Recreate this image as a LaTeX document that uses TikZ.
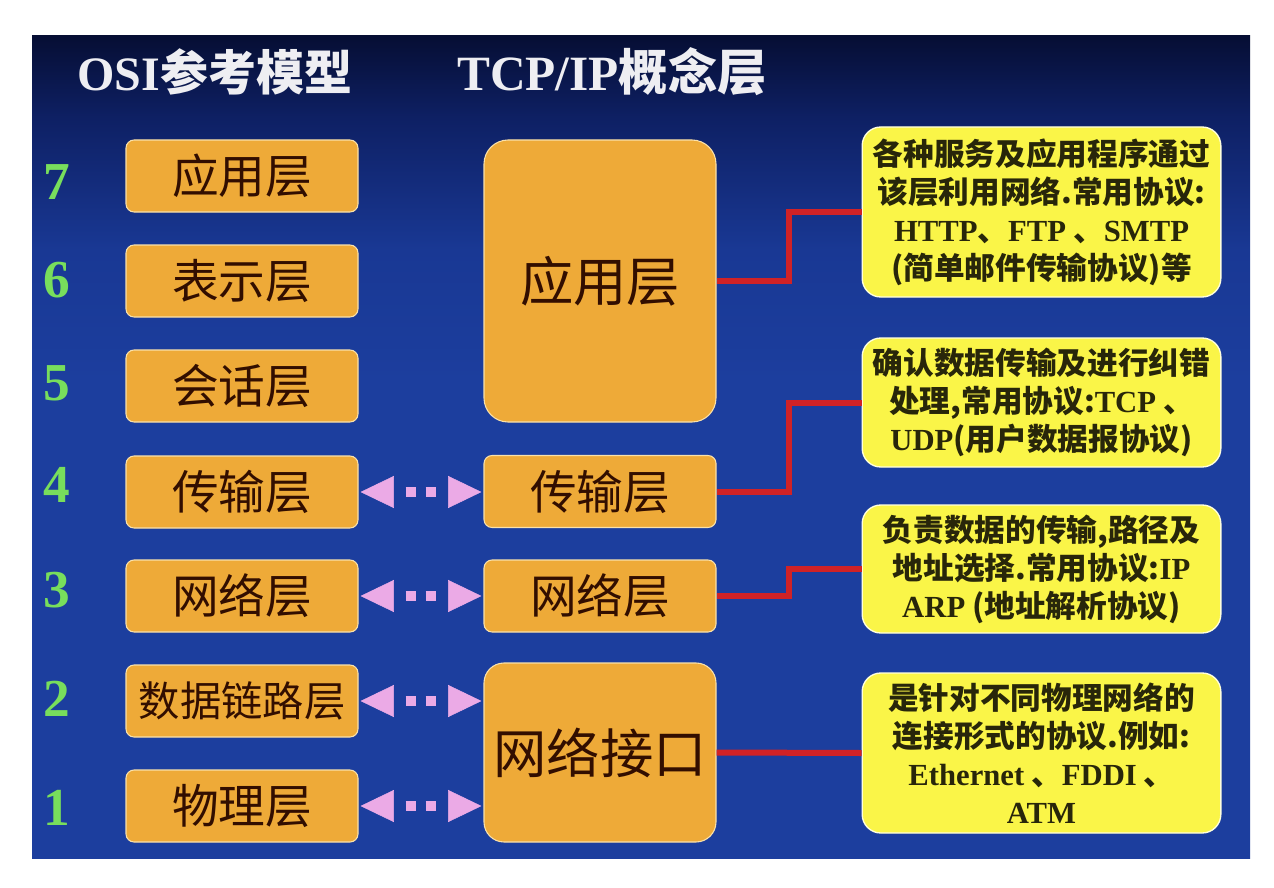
\documentclass[tikz,border=0pt]{standalone}
\usepackage{fontspec}
\setmainfont{Liberation Serif}
\newfontfamily\cjk{Noto Sans CJK SC}
\newcommand\lat[1]{{\rmfamily #1}}
\usetikzlibrary{arrows.meta,calc}
\definecolor{bgT}{RGB}{6,14,52}
\definecolor{bgM}{RGB}{14,32,100}
\definecolor{bgN}{RGB}{25,56,148}
\definecolor{bgB}{RGB}{28,62,158}
\definecolor{orangeC}{RGB}{238,170,56}
\definecolor{orangeE}{RGB}{250,225,170}
\definecolor{brownT}{RGB}{50,14,0}
\definecolor{yellowC}{RGB}{250,245,72}
\definecolor{yellowE}{RGB}{255,255,220}
\definecolor{oliveT}{RGB}{40,38,10}
\definecolor{pinkC}{RGB}{235,170,230}
\definecolor{redC}{RGB}{208,34,38}
\definecolor{greenC}{RGB}{120,222,92}
\definecolor{titleC}{RGB}{238,238,242}
% the path covers 25bp (bottom) to 75bp (top) of this shading
\pgfdeclareverticalshading{bgshade}{100bp}{color(0bp)=(bgB); color(54bp)=(bgB); color(62bp)=(bgN); color(70bp)=(bgM); color(75bp)=(bgT); color(100bp)=(bgT)}
\begin{document}
\begin{tikzpicture}[x=0.75pt,y=-0.75pt,
  obox/.style={fill=orangeC, draw=orangeE, line width=0.8pt, rounded corners=6pt, text=brownT,
    inner sep=0pt, minimum width=174pt, minimum height=54pt, font=\cjk\fontsize{35}{40}\selectfont},
  ybox/.style={fill=yellowC, draw=yellowE, line width=1pt, rounded corners=14pt, text=oliveT,
    inner sep=0pt, minimum width=269pt, align=center, font=\cjk\bfseries\fontsize{23}{28.5}\selectfont},
  num/.style={text=greenC, font=\bfseries\fontsize{40}{44}\selectfont, inner sep=0pt},
  ttl/.style={text=titleC, font=\bfseries\fontsize{36}{40}\selectfont, inner sep=0pt},
  dbl/.style={draw=pinkC, line width=7.5pt,
    {Triangle[length=25pt,width=24pt,line width=0.4pt]}-{Triangle[length=25pt,width=24pt,line width=0.4pt]},
    dash pattern=on 0pt off 9pt on 7.5pt off 7.5pt on 7.5pt off 100pt, shorten <=1.5pt, shorten >=1.5pt},
  link/.style={draw=redC, line width=4.5pt}
]
\useasboundingbox (0,0) rectangle (1274,888);
\fill[white] (0,0) rectangle (1274,888);
\shade[shading=bgshade] (32,36) rectangle (1250,858);

% titles
\node[ttl] (t1) at (215,72) {OSI{\cjk 参考模型}};
\node[ttl, font=\bfseries\fontsize{37}{40}\selectfont] (t2) at (612,72) {TCP/IP{\cjk 概念层}};

% layer numbers
\node[num] (n7) at (57,182) {7};
\node[num] (n6) at (57,280) {6};
\node[num] (n5) at (57,383) {5};
\node[num] (n4) at (57,485) {4};
\node[num] (n3) at (57,590) {3};
\node[num] (n2) at (57,699) {2};
\node[num] (n1) at (57,808) {1};

% OSI boxes
\node[obox] (L7) at (242,176) {应用层};
\node[obox] (L6) at (242,281) {表示层};
\node[obox] (L5) at (242,386) {会话层};
\node[obox] (L4) at (242,492) {传输层};
\node[obox] (L3) at (242,596) {网络层};
\node[obox, font=\cjk\fontsize{31}{36}\selectfont] (L2) at (242,701) {数据链路层};
\node[obox] (L1) at (242,806) {物理层};

% TCP/IP boxes
\node[obox, minimum height=211.5pt, rounded corners=18pt, font=\cjk\fontsize{40}{44}\selectfont] (app) at (600,281) {应用层};
\node[obox] (tr) at (600,491.5) {传输层};
\node[obox] (nw) at (600,596) {网络层};
\node[obox, minimum height=134.25pt, rounded corners=15pt, font=\cjk\fontsize{40}{44}\selectfont] (ni) at (600,752.5) {网络接口};

% description boxes
\node[ybox, minimum height=127.5pt] (y1) at (1041.5,212) {各种服务及应用程序通过\\该层利用网络.常用协议:\\\lat{HTTP}、\lat{FTP} 、\lat{SMTP}\\(简单邮件传输协议)等};
\node[ybox, minimum height=96.75pt] (y2) at (1041.5,402.5) {确认数据传输及进行纠错\\处理,常用协议:\lat{TCP} 、\\\lat{UDP}(用户数据报协议)};
\node[ybox, minimum height=96pt] (y3) at (1041.5,569) {负责数据的传输,路径及\\地址选择.常用协议:\lat{IP}\\\lat{ARP} (地址解析协议)};
\node[ybox, minimum height=120pt] (y4) at (1041.5,753) {是针对不同物理网络的\\连接形式的协议.例如:\\\lat{Ethernet} 、\lat{FDDI} 、\\\lat{ATM}};

% pink correspondence arrows
\draw[dbl] (L4.east) -- (L4.east -| tr.west);
\draw[dbl] (L3.east) -- (L3.east -| nw.west);
\draw[dbl] (L2.east) -- (L2.east -| ni.west);
\draw[dbl] (L1.east) -- (L1.east -| ni.west);

% red connectors
\draw[link] (app.east) -| ($(app.east)!0.5!(y1.west)$) |- (y1.west);
\draw[link] (tr.east) -| ($(tr.east)!0.5!(y2.west)$) |- (y2.west);
\draw[link] (nw.east) -| ($(nw.east)!0.5!(y3.west)$) |- (y3.west);
\draw[link] (ni.east) -- (y4.west);
\end{tikzpicture}
\end{document}
